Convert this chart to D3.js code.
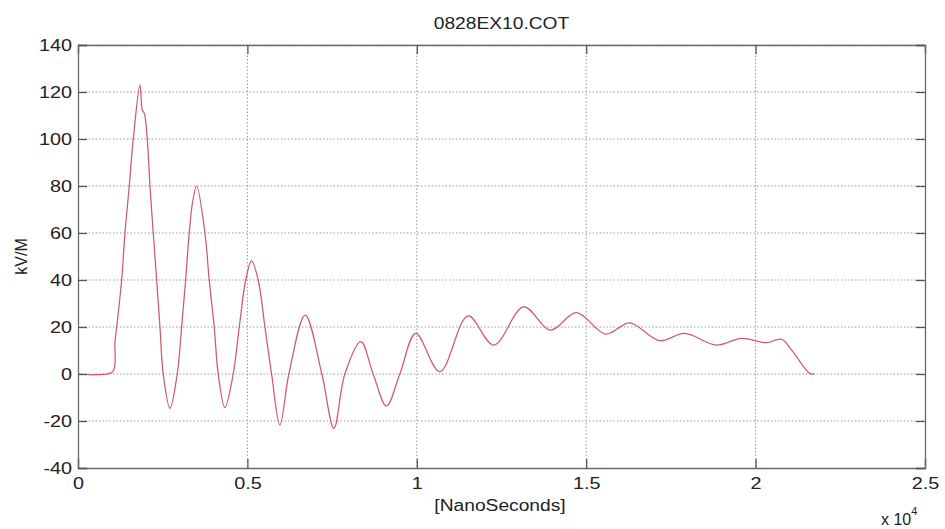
<!DOCTYPE html>
<html>
<head>
<meta charset="utf-8">
<script src="https://cdn.jsdelivr.net/npm/d3@7"></script>
<style>
  html, body { margin: 0; padding: 0; background: #fff; }
  svg { display: block; }
  text { font-family: "Liberation Sans", Arial, sans-serif; fill: #222; }
</style>
</head>
<body>
<svg id="chart" width="945" height="529"></svg>
<script>
// ---- Data (time in nanoseconds, field in kV/M) ----
const timeNs = [0, 500, 1024, 1091, 1142, 1289, 1386, 1513, 1631, 1829, 1897, 1956, 2044, 2124, 2221,
  2322, 2419, 2516, 2714, 2929, 3059, 3177, 3283, 3384, 3502, 3746, 3873, 4021, 4139, 4336,
  4581, 4760, 4950, 5124, 5319, 5517, 5714, 5959, 6224, 6705, 7198, 7552, 7876, 8348, 8711,
  9106, 9499, 9971, 10678, 11513, 12271, 13156, 13944, 14711, 15575, 16283, 17168, 17906,
  18841, 19578, 20316, 20758, 21100, 21593, 21740];
const fieldKV = [0, -0.3, 1, 13.7, 20, 40, 60, 80, 100, 123, 112.3, 111, 100, 80, 60,
  40, 20, 0, -14.6, 0, 20, 40, 60, 73.3, 80, 60, 40, 20, 0, -14.3,
  0, 20, 40, 48.1, 40, 20, 0, -21.7, 0, 25.1, 0, -23.1, 0, 13.8, 0,
  -13.6, 0, 17.3, 1.0, 24.7, 12.3, 28.6, 18.7, 26.1, 17.0, 21.8, 14.2, 17.3,
  12.3, 15.2, 13.3, 14.8, 9.5, 0.3, 0];
const xTickValues = [0, 5000, 10000, 15000, 20000, 25000];
const xTickLabels = ["0", "0.5", "1", "1.5", "2", "2.5"];
const yTickValues = [-40, -20, 0, 20, 40, 60, 80, 100, 120, 140];
const yTickLabels = ["-40", "-20", "0", "20", "40", "60", "80", "100", "120", "140"];
const titleText = "0828EX10.COT";
const xLabelText = "[NanoSeconds]";
const yLabelText = "kV/M";

const svg = d3.select("#chart");
const m = { left: 78, right: 925, top: 45, bottom: 468 };
const x = d3.scaleLinear().domain([0, 25000]).range([m.left, m.right]);
const y = d3.scaleLinear().domain([-40, 140]).range([m.bottom, m.top]);
const STRETCH = 1.2;
function stretch(sel) {
  sel.each(function () {
    const w = this.getComputedTextLength();
    d3.select(this).attr("textLength", w * STRETCH).attr("lengthAdjust", "spacingAndGlyphs");
  });
}

// grid
const grid = svg.append("g").attr("stroke", "#999").attr("stroke-width", 1).attr("stroke-dasharray", "1.5,2");
grid.selectAll("line.v").data(xTickValues.slice(1, -1)).join("line")
  .attr("x1", d => x(d)).attr("x2", d => x(d)).attr("y1", m.top).attr("y2", m.bottom);
grid.selectAll("line.h").data(yTickValues.slice(1)).join("line")
  .attr("x1", m.left).attr("x2", m.right).attr("y1", d => y(d)).attr("y2", d => y(d));

// curve
const pts = timeNs.map((t, i) => [t, fieldKV[i]]);
svg.append("path").datum(pts)
  .attr("fill", "none").attr("stroke", "#d05a68").attr("stroke-width", 1.25)
  .attr("stroke-linejoin", "round")
  .attr("d", d3.line().x(d => x(d[0])).y(d => y(d[1])).curve(d3.curveCatmullRom.alpha(0.5)));

// axes (MATLAB box style with inward ticks)
const tl = 9;
const axB = svg.append("g").attr("transform", `translate(0,${m.bottom})`)
  .call(d3.axisBottom(x).tickValues(xTickValues).tickSize(-tl).tickPadding(9)
    .tickFormat((d, i) => xTickLabels[i]));
const axT = svg.append("g").attr("transform", `translate(0,${m.top})`)
  .call(d3.axisTop(x).tickValues(xTickValues).tickSize(-tl).tickFormat(""));
const axL = svg.append("g").attr("transform", `translate(${m.left},0)`)
  .call(d3.axisLeft(y).tickValues(yTickValues).tickSize(-tl).tickPadding(6)
    .tickFormat((d, i) => yTickLabels[i]));
const axR = svg.append("g").attr("transform", `translate(${m.right},0)`)
  .call(d3.axisRight(y).tickValues(yTickValues).tickSize(-tl).tickFormat(""));
[axB, axT, axL, axR].forEach(a => {
  a.select(".domain").attr("stroke", "#6a6a6a").attr("stroke-width", 1.3);
  a.selectAll(".tick line").attr("stroke", "#555").attr("stroke-width", 1.3);
  a.selectAll("text").attr("font-size", 16.5).attr("fill", "#222")
    .attr("font-family", '"Liberation Sans", Arial, sans-serif');
});
stretch(axB.selectAll(".tick text"));
stretch(axL.selectAll(".tick text"));

// title and labels
svg.append("text").attr("x", (m.left + m.right) / 2).attr("y", 29)
  .attr("text-anchor", "middle").attr("font-size", 16).text(titleText).call(stretch);
svg.append("text").attr("x", 500).attr("y", 511)
  .attr("text-anchor", "middle").attr("font-size", 16).text(xLabelText).call(stretch);
svg.append("text").attr("transform", `translate(27,${(m.top + m.bottom) / 2}) rotate(-90)`)
  .attr("text-anchor", "middle").attr("font-size", 16).text(yLabelText);
const exp = svg.append("text").attr("x", 881).attr("y", 525).attr("font-size", 16);
exp.append("tspan").text("x 10");
exp.append("tspan").attr("font-size", 11).attr("dy", -10).text("4");
</script>
</body>
</html>
